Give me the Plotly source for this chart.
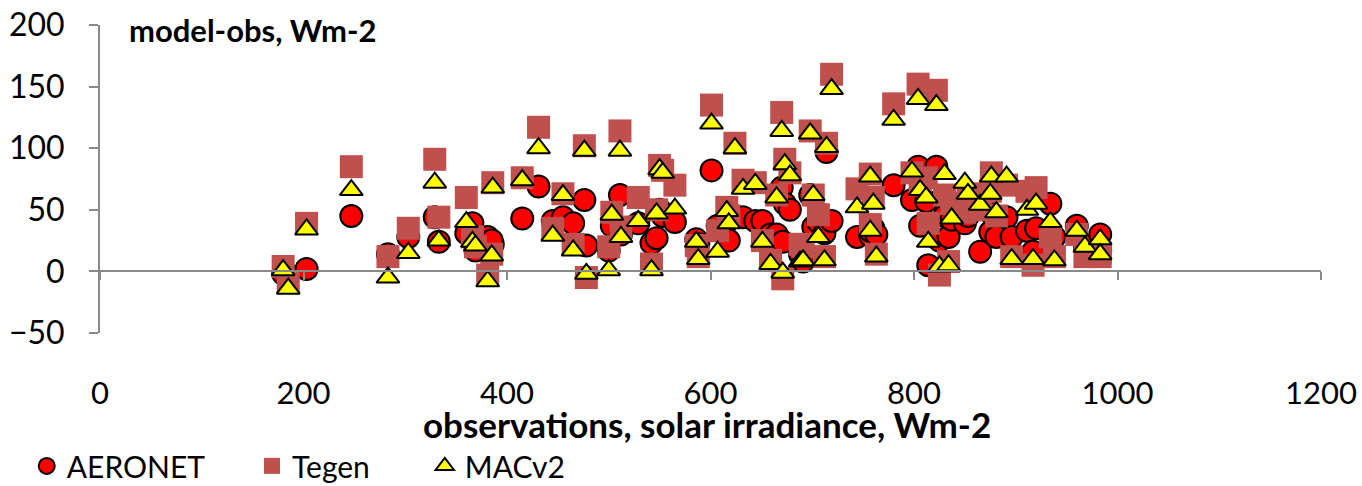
import plotly.graph_objects as go

# Observed solar irradiance (Wm-2) at each site/time
obs = [180, 185, 203, 247, 283, 303, 329, 333, 360, 366, 369, 381, 386, 385,
       415, 431, 445, 455, 465, 476, 478, 500, 503, 511, 512, 529, 542, 547,
       550, 553, 565, 586, 588, 601, 607, 616, 618, 624, 632, 644, 651, 659,
       665, 670, 671, 673, 678, 688, 691, 698, 701, 706, 712, 714, 719, 744,
       757, 757, 760, 763, 780, 798, 804, 806, 812, 814, 822, 825, 830, 834,
       837, 850, 853, 865, 876, 875, 881, 891, 896, 911, 920, 917, 934, 938,
       960, 968, 983, 983]

# Model minus observation bias (Wm-2) for each aerosol dataset
aeronet = [-2, -3, 2, 45, 14, 28, 44, 24, 31, 39, 17, 28, 22, 25,
           43, 69, 41, 44, 39, 58, 21, 17, 37, 62, 30, 39, 23, 27,
           50, 45, 40, 26, 22, 82, 37, 40, 25, 45, 44, 41, 41, 30,
           30, 68, 24, 55, 50, 14, 8, 62, 36, 40, 31, 97, 41, 28,
           29, 33, 35, 30, 70, 58, 85, 37, 57, 5, 85, 25, 45, 28,
           42, 39, 45, 16, 47, 32, 28, 44, 28, 33, 35, 16, 55, 28,
           37, 20, 30, 17]

tegen = [4, -9, 39, 85, 12, 35, 91, 44, 60, 28, 20, -3, 72, 14,
         76, 117, 35, 63, 22, 102, -5, 20, 48, 114, 36, 60, 6, 50,
         86, 82, 70, 21, 12, 135, 33, 52, 45, 104, 74, 72, 25, 9,
         62, 129, -6, 91, 80, 22, 20, 114, 62, 46, 12, 104, 160, 67,
         79, 38, 60, 14, 136, 80, 152, 70, 76, 39, 147, -3, 62, 8,
         55, 48, 63, 50, 80, 65, 45, 70, 12, 65, 68, 5, 28, 12,
         30, 12, 15, 12]

macv2 = [1, -14, 34, 66, -5, 15, 72, 25, 40, 24, 21, -8, 68, 13,
         74, 100, 29, 62, 17, 98, -2, 1, 46, 98, 28, 41, 1, 47,
         83, 80, 51, 24, 10, 120, 16, 49, 39, 100, 67, 71, 24, 6,
         60, 114, -1, 87, 78, 8, 9, 112, 62, 28, 9, 101, 148, 52,
         77, 33, 55, 12, 123, 81, 140, 66, 60, 24, 135, 4, 79, 5,
         43, 72, 63, 54, 77, 63, 48, 77, 10, 50, 55, 10, 40, 9,
         33, 20, 26, 14]

x_ticks = [0, 200, 400, 600, 800, 1000, 1200]
y_ticks = [-50, 0, 50, 100, 150, 200]

FONT = "Lato"
AXIS_GREY = "#898989"
LEGEND_Y = -0.347

fig = go.Figure()

fig.add_trace(go.Scatter(
    x=obs, y=aeronet, mode="markers", name="AERONET", legend="legend",
    marker=dict(symbol="circle", size=22, color="#FF0000",
                line=dict(color="black", width=2)),
))
fig.add_trace(go.Scatter(
    x=obs, y=tegen, mode="markers", name="Tegen", legend="legend2",
    marker=dict(symbol="square", size=23, color="#C0504D",
                line=dict(color="#C0504D", width=0)),
))
fig.add_trace(go.Scatter(
    x=obs, y=macv2, mode="markers", name="MACv2", legend="legend3",
    marker=dict(symbol="triangle-up", size=20, color="#FFFF00",
                line=dict(color="black", width=2)),
))

# invisible trace that carries the zero-crossing x axis
fig.add_trace(go.Scatter(x=[0, 1200], y=[0, 0], xaxis="x2", mode="markers",
                         marker=dict(opacity=0), showlegend=False,
                         hoverinfo="skip"))

legend_style = dict(orientation="h", xanchor="left", yanchor="top",
                    y=LEGEND_Y, font=dict(family=FONT, size=30, color="black"),
                    bgcolor="rgba(0,0,0,0)")

fig.update_layout(
    width=1362, height=486,
    margin=dict(l=100, r=41, t=25, b=153, autoexpand=False),
    paper_bgcolor="white", plot_bgcolor="white",
    font=dict(family=FONT, size=32, color="black"),
    showlegend=True,
    legend=dict(x=-0.06, **legend_style),
    legend2=dict(x=0.1245, **legend_style),
    legend3=dict(x=0.266, **legend_style),
    xaxis=dict(range=[0, 1200], tickvals=x_ticks, showline=False,
               showgrid=False, zeroline=False, ticks="",
               ticklabelstandoff=39,
               tickfont=dict(family=FONT, size=31)),
    xaxis2=dict(range=[0, 1200], tickvals=x_ticks, overlaying="x",
                anchor="free", position=0.2, side="bottom",
                showline=True, linecolor=AXIS_GREY, linewidth=2,
                ticks="outside", ticklen=8, tickwidth=2,
                tickcolor=AXIS_GREY, showticklabels=False,
                showgrid=False, zeroline=False),
    yaxis=dict(range=[-50, 200], tickvals=y_ticks, showline=True,
               linecolor=AXIS_GREY, linewidth=2, ticks="outside",
               ticklen=9, tickwidth=2, tickcolor=AXIS_GREY,
               showgrid=False, zeroline=False, ticklabelstandoff=18,
               tickfont=dict(family=FONT, size=32)),
    annotations=[
        dict(text="<b>observations, solar irradiance, Wm-2</b>",
             xref="paper", yref="paper", x=0.497, y=-0.297,
             xanchor="center", yanchor="middle", showarrow=False,
             font=dict(family=FONT, size=35, color="black")),
        dict(text="<b>model-obs, Wm-2</b>",
             xref="paper", yref="paper", x=0.022, y=0.984,
             xanchor="left", yanchor="middle", showarrow=False,
             font=dict(family=FONT, size=31, color="black")),
    ],
)

fig.write_html("out.html")
